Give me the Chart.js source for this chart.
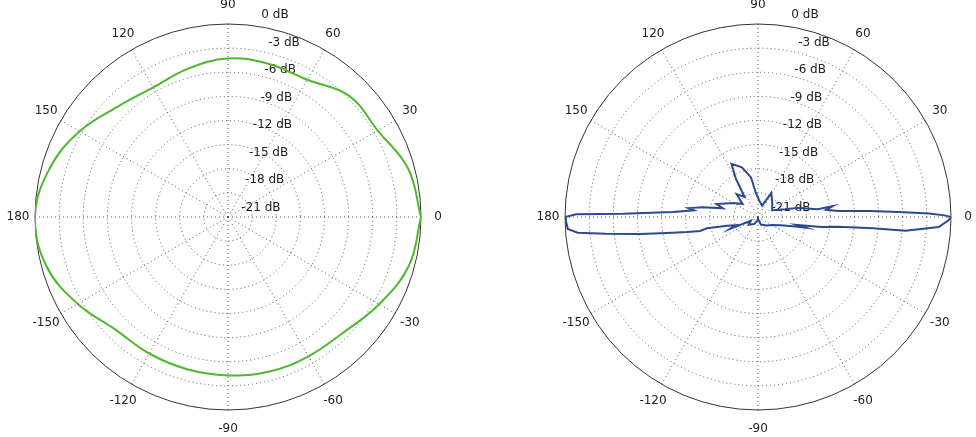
<!DOCTYPE html>
<html><head><meta charset="utf-8">
<script src="https://cdn.jsdelivr.net/npm/chart.js@4/dist/chart.umd.min.js"></script>
<style>body{margin:0;background:#fff;width:976px;height:437px;overflow:hidden;font-family:"DejaVu Sans",sans-serif}
.w{position:absolute;top:0;width:488px;height:437px}</style></head><body>
<div class="w" style="left:0"><canvas id="c1" width="488" height="437"></canvas></div>
<div class="w" style="left:488px"><canvas id="c2" width="488" height="437"></canvas></div>
<script>
const angleTicks = [0, 30, 60, 90, 120, 150, 180, -150, -120, -90, -60, -30];
const dbTicks = ['0 dB', '-3 dB', '-6 dB', '-9 dB', '-12 dB', '-15 dB', '-18 dB', '-21 dB'];
const dbMin = -24;
const leftAngles = [0, 15, 30, 45, 60, 75, 90, 105, 120, 135, 150, 165, 180, -165, -150, -135, -120, -105, -90, -75, -60, -45, -30, -15];
const leftDb = [0, -0.8, -2.5, -2.7, -4.3, -4.3, -4.3, -4.9, -5.4, -4.6, -2.7, -1.0, 0, -0.6, -2.4, -4.2, -4.4, -4.4, -4.3, -4.1, -4.0, -3.7, -2.3, -0.7];
const rightAngles = [-180,-179,-176.4,-175,-173.7,-171.8,-170,-168,-166.4,-167.5,-164,-160,-157,-152,-140,-120,-100,-90,-70,-45,-30,-20,-15,-12.6,-11.5,-9,-7,-5.6,-5.3,-3.2,-1,0,0.5,1.2,2,3,4.2,6,8.3,7.5,10,12.6,16,25,45,61,70,85,95,100,108,116.5,120,124,133,140,150,162.6,166,170,172.7,174,176.6,178.6,179.15,180];
const rightDb = [0,-0.1,-0.3,-1.5,-5,-9.2,-12.5,-15,-16.6,-17.5,-20,-21,-20.2,-23,-22.5,-23,-23.5,-23.8,-23,-22.5,-22,-21,-19.5,-17.9,-19,-16,-14,-9.6,-5.6,-1.5,-0.3,0,-0.8,-2.7,-6.5,-10,-14,-15.5,-14.6,-16.5,-18,-18.7,-20.5,-22,-21.5,-20.6,-22.5,-22,-21,-19,-17.5,-16.6,-18.5,-21,-20.1,-21.5,-20.5,-18.6,-19.5,-17,-15.3,-16,-13.4,-7.2,-1.4,0];

function toXY(angles, db, close) {
  const pts = angles.map((a, i) => {
    const r = Math.max(0, db[i] - dbMin) / -dbMin;
    const t = a * Math.PI / 180;
    return {x: r * Math.cos(t), y: r * Math.sin(t)};
  });
  if (close) pts.push(pts[0]);
  return pts;
}

const polarGrid = {
  id: 'polarGrid',
  beforeDatasetsDraw(chart) {
    const {ctx, scales: {x, y}} = chart;
    const cx = x.getPixelForValue(0), cy = y.getPixelForValue(0);
    const R = x.getPixelForValue(1) - cx;
    ctx.save();
    ctx.strokeStyle = '#555'; ctx.lineWidth = 1; ctx.setLineDash([1, 3]);
    for (let k = 1; k < dbTicks.length; k++) {
      const r = R * (dbTicks.length - k) / dbTicks.length;
      ctx.beginPath(); ctx.arc(cx, cy, r, 0, 2 * Math.PI); ctx.stroke();
    }
    angleTicks.forEach(a => {
      const t = a * Math.PI / 180;
      ctx.beginPath(); ctx.moveTo(cx, cy);
      ctx.lineTo(cx + R * Math.cos(t), cy - R * Math.sin(t)); ctx.stroke();
    });
    ctx.setLineDash([]); ctx.strokeStyle = '#333';
    ctx.beginPath(); ctx.arc(cx, cy, R, 0, 2 * Math.PI); ctx.stroke();
    ctx.fillStyle = '#222'; ctx.font = '12px "DejaVu Sans", sans-serif';
    ctx.textAlign = 'center'; ctx.textBaseline = 'middle';
    angleTicks.forEach(a => {
      const t = a * Math.PI / 180;
      ctx.fillText(String(a), cx + (R + 17) * Math.cos(t), cy - (R + 19) * Math.sin(t));
    });
    dbTicks.forEach((lab, k) => {
      const r = R * (dbTicks.length - k) / dbTicks.length;
      const dx = k === 0 ? 60 : 15 + 0.16 * r + 27;
      ctx.fillText(lab, cx + dx - 13, cy - (1.14 * r - 18));
    });
    ctx.restore();
  }
};

function make(id, data, color, tension, pad) {
  new Chart(document.getElementById(id), {
    type: 'scatter',
    data: {datasets: [{data, showLine: true, borderColor: color, borderWidth: 2, pointRadius: 0, tension, fill: false}]},
    options: {
      responsive: false, animation: false, events: [],
      layout: {padding: pad},
      plugins: {legend: {display: false}, tooltip: {enabled: false}},
      scales: {
        x: {type: 'linear', min: -1, max: 1, display: false},
        y: {type: 'linear', min: -1, max: 1, display: false}
      }
    },
    plugins: [polarGrid]
  });
}
make('c1', toXY(leftAngles, leftDb, true), '#4fb82e', 0.4, {left: 35, right: 67, top: 24, bottom: 27});
make('c2', toXY(rightAngles, rightDb, false), '#2c4a90', 0, {left: 77, right: 25, top: 24, bottom: 27});
</script></body></html>
